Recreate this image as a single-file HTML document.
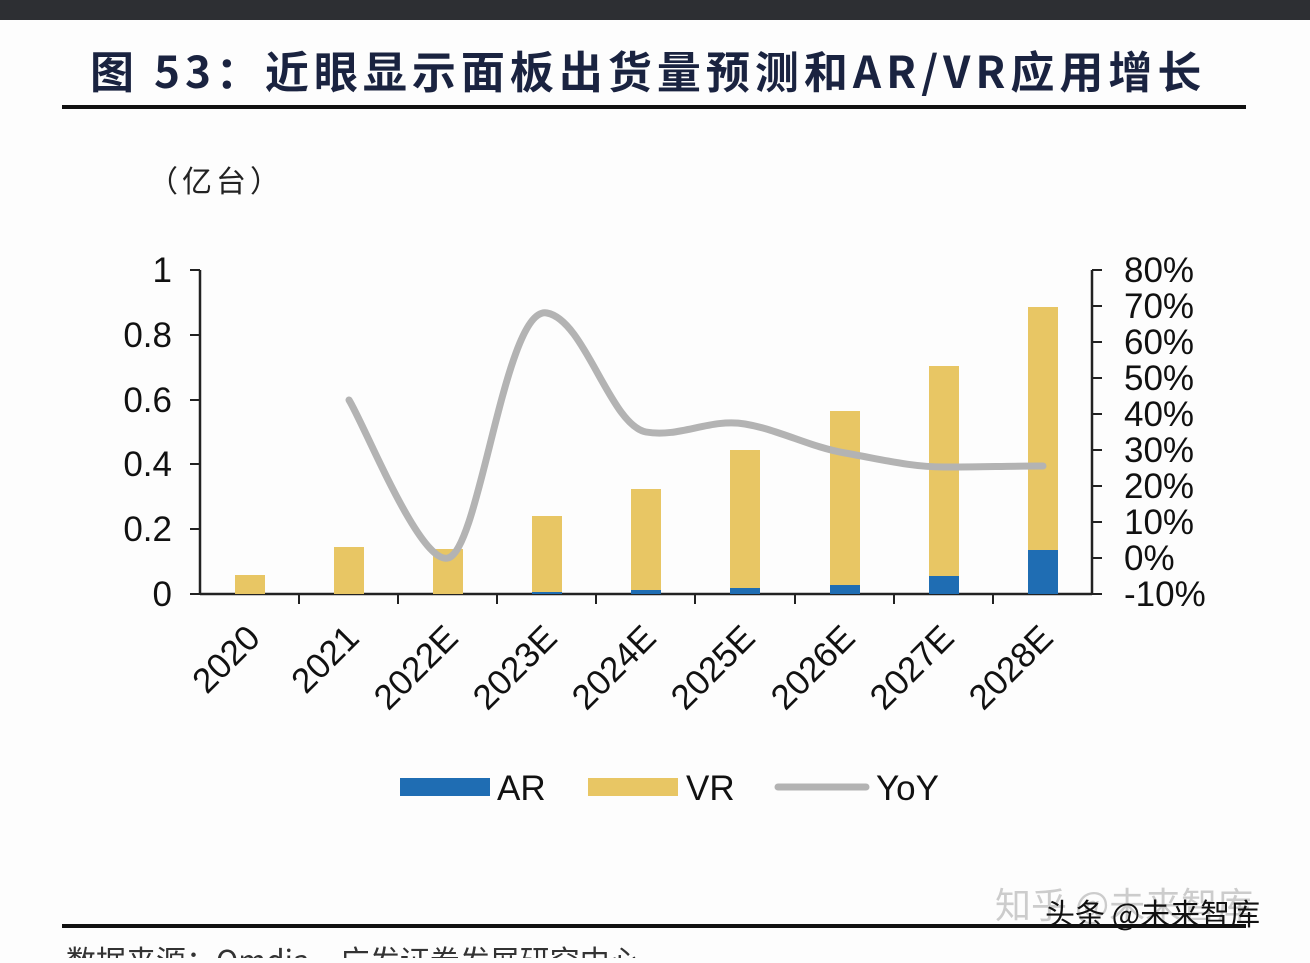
<!DOCTYPE html>
<html><head><meta charset="utf-8"><style>
body{margin:0;width:1310px;height:958px;background:#fdfdfd;overflow:hidden;font-family:"Liberation Sans","Noto Sans CJK SC",sans-serif}
</style></head><body>
<svg width="1310" height="958" xmlns="http://www.w3.org/2000/svg" font-family="Liberation Sans, Noto Sans CJK SC, sans-serif">
<rect x="0" y="0" width="1310" height="20" fill="#2d2f33"/>
<text x="90" y="88" font-size="44" font-weight="bold" fill="#1a2340" letter-spacing="5" font-family="Noto Sans CJK SC, sans-serif">图 53：近眼显示面板出货量预测和AR/VR应用增长</text>
<rect x="62" y="105" width="1184" height="4" fill="#111"/>
<text x="148" y="192" font-size="30" fill="#222" letter-spacing="4" font-family="Noto Sans CJK SC, sans-serif">（亿台）</text>
<g stroke="#222" stroke-width="2.5" fill="none">
<line x1="200" y1="270" x2="200" y2="594"/>
<line x1="1092" y1="270" x2="1092" y2="594"/>
<line x1="200" y1="594" x2="1092" y2="594"/>
</g>
<g stroke="#222" stroke-width="2">
<line x1="190" y1="270" x2="200" y2="270"/><line x1="190" y1="335" x2="200" y2="335"/><line x1="190" y1="400" x2="200" y2="400"/><line x1="190" y1="464" x2="200" y2="464"/><line x1="190" y1="529" x2="200" y2="529"/><line x1="190" y1="594" x2="200" y2="594"/>
<line x1="1092" y1="270" x2="1102" y2="270"/><line x1="1092" y1="306" x2="1102" y2="306"/><line x1="1092" y1="342" x2="1102" y2="342"/><line x1="1092" y1="378" x2="1102" y2="378"/><line x1="1092" y1="414" x2="1102" y2="414"/><line x1="1092" y1="450" x2="1102" y2="450"/><line x1="1092" y1="486" x2="1102" y2="486"/><line x1="1092" y1="522" x2="1102" y2="522"/><line x1="1092" y1="558" x2="1102" y2="558"/><line x1="1092" y1="594" x2="1102" y2="594"/>
<line x1="299" y1="594" x2="299" y2="604"/><line x1="398" y1="594" x2="398" y2="604"/><line x1="497" y1="594" x2="497" y2="604"/><line x1="596" y1="594" x2="596" y2="604"/><line x1="695" y1="594" x2="695" y2="604"/><line x1="795" y1="594" x2="795" y2="604"/><line x1="894" y1="594" x2="894" y2="604"/><line x1="993" y1="594" x2="993" y2="604"/>
</g>
<g font-size="35" fill="#111" text-anchor="end">
<text x="172" y="282">1</text><text x="172" y="347">0.8</text><text x="172" y="412">0.6</text><text x="172" y="476">0.4</text><text x="172" y="541">0.2</text><text x="172" y="606">0</text>
</g>
<g font-size="35" fill="#111">
<text x="1124" y="282">80%</text><text x="1124" y="318">70%</text><text x="1124" y="354">60%</text><text x="1124" y="390">50%</text><text x="1124" y="426">40%</text><text x="1124" y="462">30%</text><text x="1124" y="498">20%</text><text x="1124" y="534">10%</text><text x="1124" y="570">0%</text><text x="1124" y="606">-10%</text>
</g>
<g fill="#e8c664">
<rect x="235" y="575" width="30" height="19"/>
<rect x="334" y="547" width="30" height="47"/>
<rect x="433" y="549" width="30" height="45"/>
<rect x="532" y="516" width="30" height="78"/>
<rect x="631" y="489" width="30" height="105"/>
<rect x="730" y="450" width="30" height="144"/>
<rect x="830" y="411" width="30" height="183"/>
<rect x="929" y="366" width="30" height="228"/>
<rect x="1028" y="307" width="30" height="287"/>
</g>
<g fill="#1f6db3">
<rect x="532" y="592" width="30" height="2"/>
<rect x="631" y="590" width="30" height="4"/>
<rect x="730" y="588" width="30" height="6"/>
<rect x="830" y="585" width="30" height="9"/>
<rect x="929" y="576" width="30" height="18"/>
<rect x="1028" y="550" width="30" height="44"/>
</g>
<path d="M349,400 C365,426 420,565 448,558 C480,550 505,305 547,313 C585,320 610,425 646,432 C680,438 710,418 745,424 C780,430 810,447 845,453 C880,459 910,467 944,467 C980,467 1010,466 1043,466" fill="none" stroke="#b3b3b3" stroke-width="7" stroke-linecap="round"/>
<g font-size="35" fill="#111" text-anchor="end">
<text transform="translate(262,640) rotate(-45)">2020</text>
<text transform="translate(361,640) rotate(-45)">2021</text>
<text transform="translate(460,640) rotate(-45)">2022E</text>
<text transform="translate(559,640) rotate(-45)">2023E</text>
<text transform="translate(658,640) rotate(-45)">2024E</text>
<text transform="translate(757,640) rotate(-45)">2025E</text>
<text transform="translate(857,640) rotate(-45)">2026E</text>
<text transform="translate(956,640) rotate(-45)">2027E</text>
<text transform="translate(1055,640) rotate(-45)">2028E</text>
</g>
<rect x="400" y="778" width="90" height="18" fill="#1f6db3"/>
<text x="497" y="800" font-size="35" fill="#111">AR</text>
<rect x="588" y="778" width="90" height="18" fill="#e8c664"/>
<text x="686" y="800" font-size="35" fill="#111">VR</text>
<line x1="778" y1="787" x2="866" y2="787" stroke="#b3b3b3" stroke-width="7" stroke-linecap="round"/>
<text x="876" y="800" font-size="35" fill="#111">YoY</text>
<text x="995" y="918" font-size="36" fill="#ccc" font-family="Noto Sans CJK SC, sans-serif">知乎 @未来智库</text>
<text x="1045" y="925" font-size="30" fill="#111" font-family="Noto Sans CJK SC, sans-serif">头条 @未来智库</text>
<rect x="62" y="924" width="1184" height="4" fill="#111"/>
<text x="66" y="972" font-size="30" fill="#333" font-family="Noto Sans CJK SC, sans-serif">数据来源：Omdia，广发证券发展研究中心</text>
</svg>
</body></html>
